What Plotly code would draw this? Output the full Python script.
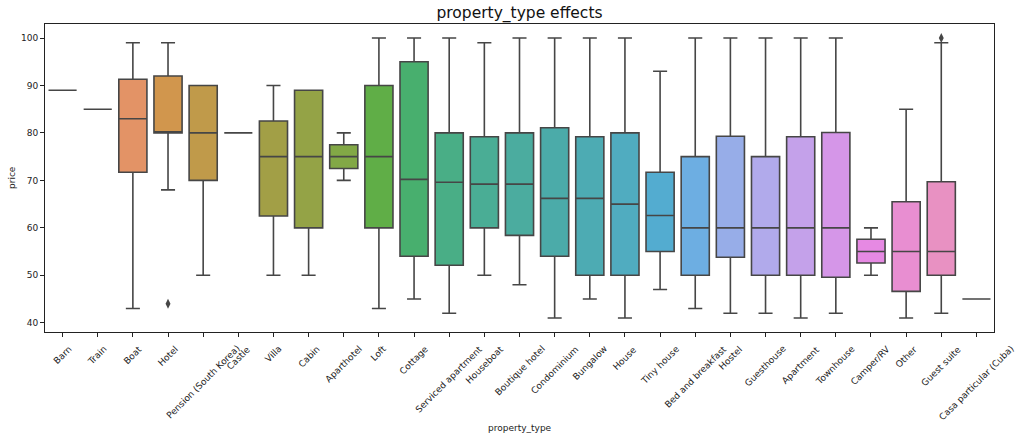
import math
import colorsys
import plotly.graph_objects as go

# ---------------- data ----------------
categories = ["Barn", "Train", "Boat", "Hotel", "Pension (South Korea)", "Castle", "Villa", "Cabin",
              "Aparthotel", "Loft", "Cottage", "Serviced apartment", "Houseboat", "Boutique hotel",
              "Condominium", "Bungalow", "House", "Tiny house", "Bed and breakfast", "Hostel",
              "Guesthouse", "Apartment", "Townhouse", "Camper/RV", "Other", "Guest suite",
              "Casa particular (Cuba)"]
lower_whisker = [89, 85, 43, 68, 50, 80, 50, 50, 70, 43, 45, 42, 50, 48, 41, 45, 41, 47, 43, 42, 42, 41, 42, 50, 41, 42, 45]
q1_values     = [89, 85, 71.7, 80, 70, 80, 62.5, 60, 72.5, 60, 54, 52.1, 60, 58.4, 54, 50, 50, 55, 50, 53.8, 50, 50, 49.6, 52.6, 46.6, 50, 45]
median_values = [89, 85, 83, 80, 80, 80, 75, 75, 75, 75, 70.2, 69.6, 69.2, 69.2, 66.2, 66.2, 65, 62.6, 60, 60, 60, 60, 60, 55, 55, 55, 45]
q3_values     = [89, 85, 91.3, 92, 90, 80, 82.5, 89, 77.5, 90, 95, 80, 79.2, 80, 81.1, 79.2, 80, 71.7, 75, 79.3, 75, 79.2, 80.1, 57.6, 65.5, 69.7, 45]
upper_whisker = [89, 85, 99, 99, 90, 80, 90, 89, 80, 100, 100, 100, 99, 100, 100, 100, 100, 93, 100, 100, 100, 100, 100, 60, 85, 99, 45]
outlier_categories = ["Hotel", "Guest suite"]
outlier_values = [44, 100]
y_ticks = [40, 50, 60, 70, 80, 90, 100]

# -------------- colours (seaborn husl palette, desaturated 0.75) --------------
_m = [[3.2406, -1.5372, -0.4986], [-0.9689, 1.8758, 0.0415], [0.0557, -0.2040, 1.0570]]
_refY, _refU, _refV = 1.0, 0.19784, 0.46834
_lab_e, _lab_k = 0.008856, 903.3


def _max_chroma(L, H):
    hrad = math.radians(H)
    sinH, cosH = math.sin(hrad), math.cos(hrad)
    sub1 = math.pow(L + 16, 3.0) / 1560896.0
    sub2 = sub1 if sub1 > 0.008856 else (L / 903.3)
    result = float("inf")
    for m1, m2, m3 in _m:
        top = (0.99915 * m1 + 1.05122 * m2 + 1.14460 * m3) * sub2
        rbottom = 0.86330 * m3 - 0.17266 * m2
        lbottom = 0.12949 * m3 - 0.38848 * m1
        bottom = (rbottom * sinH + lbottom * cosH) * sub2
        for t in (0.0, 1.0):
            C = L * (top - 1.05122 * t) / (bottom + 0.17266 * sinH * t)
            if 0.0 < C < result:
                result = C
    return result


def _f_inv(t):
    return t ** 3 if t ** 3 > _lab_e else (116.0 * t - 16.0) / _lab_k


def _from_linear(c):
    return 12.92 * c if c <= 0.0031308 else 1.055 * math.pow(c, 1 / 2.4) - 0.055


def husl_to_rgb(h, s, l):
    C = _max_chroma(l, h) / 100.0 * s
    hrad = math.radians(h)
    U, V = C * math.cos(hrad), C * math.sin(hrad)
    L = l
    varY = _f_inv((L + 16.0) / 116.0)
    varU = U / (13.0 * L) + _refU
    varV = V / (13.0 * L) + _refV
    Y = varY * _refY
    X = 0.0 - (9.0 * Y * varU) / ((varU - 4.0) * varV - varU * varV)
    Z = (9.0 * Y - (15.0 * varV * Y) - (varV * X)) / (3.0 * varV)
    rgb = [_from_linear(r[0] * X + r[1] * Y + r[2] * Z) for r in _m]
    return [min(max(c, 0.0), 1.0) for c in rgb]


def palette(n, h=0.01, s=0.9, l=0.7):
    out = []
    for i in range(n):
        hue = ((i / n + h) % 1) * 359
        rgb = husl_to_rgb(hue, s * 99, l * 99)
        hh, ll, ss = colorsys.rgb_to_hls(*rgb)
        out.append(colorsys.hls_to_rgb(hh, ll, ss * 0.75))
    return out


def to_hex(c):
    return "#%02x%02x%02x" % tuple(int(round(v * 255)) for v in c)


n = len(categories)
cols = palette(n)
lum = min(colorsys.rgb_to_hls(*c)[1] for c in cols) * 0.6
gray = to_hex((lum, lum, lum))
colors = [to_hex(c) for c in cols]

FONT = "DejaVu Sans"
TXT = "#222222"
FS = 9
fig = go.Figure()
for i, cat in enumerate(categories):
    fig.add_trace(go.Box(
        x=[cat], q1=[q1_values[i]], median=[median_values[i]], q3=[q3_values[i]],
        lowerfence=[lower_whisker[i]], upperfence=[upper_whisker[i]],
        orientation="v", width=0.8, whiskerwidth=0.5, boxpoints=False,
        fillcolor=colors[i], line=dict(color=gray, width=1.6),
        showlegend=False, hoverinfo="skip", name=cat,
    ))

fig.add_trace(go.Scatter(
    x=outlier_categories, y=outlier_values, mode="markers",
    marker=dict(symbol="diamond-tall", size=7, color=gray, line=dict(width=0)),
    showlegend=False, hoverinfo="skip",
))

annotations = []
for cat in categories:
    annotations.append(dict(
        x=cat, xref="x", y=0, yref="paper", yanchor="top", xanchor="center",
        text=cat, textangle=-45, showarrow=False, yshift=-9,
        font=dict(family=FONT, size=FS, color=TXT),
    ))
annotations.append(dict(
    x=0.5, xref="paper", y=0, yref="paper", yanchor="middle", xanchor="center",
    text="property_type", showarrow=False, yshift=-(428 - 332),
    font=dict(family=FONT, size=FS, color=TXT),
))
annotations.append(dict(
    x=0, xref="paper", y=0.5, yref="paper", yanchor="middle", xanchor="center",
    text="price", textangle=-90, showarrow=False, xshift=-(45 - 12),
    font=dict(family=FONT, size=FS, color=TXT),
))

fig.update_layout(
    width=1024, height=441,
    margin=dict(l=45, r=30, t=24, b=109),
    paper_bgcolor="white", plot_bgcolor="white",
    boxmode="overlay",
    title=dict(text="property_type effects", x=0.5, xref="paper", xanchor="center",
               y=1 - 13 / 441, yref="container", yanchor="middle",
               font=dict(family=FONT, size=15.5, color="#111111")),
    annotations=annotations,
    font=dict(family=FONT, size=FS, color=TXT),
)
fig.update_xaxes(
    type="category", categoryorder="array", categoryarray=categories,
    range=[-0.5, n - 0.5], showticklabels=False, ticks="outside", ticklen=4,
    tickcolor=TXT, tickwidth=1, showgrid=False, zeroline=False,
    showline=True, linecolor=TXT, linewidth=1, mirror=True,
)
fig.update_yaxes(
    range=[38.05, 102.95], tickvals=y_ticks, ticks="outside", ticklen=4,
    tickcolor=TXT, tickwidth=1, showgrid=False, zeroline=False,
    showline=True, linecolor=TXT, linewidth=1, mirror=True,
    tickfont=dict(family=FONT, size=FS, color=TXT),
)

fig.write_html("out.html", config={"displayModeBar": False},
               post_script="document.body.style.margin='0';document.body.style.overflow='hidden';")
